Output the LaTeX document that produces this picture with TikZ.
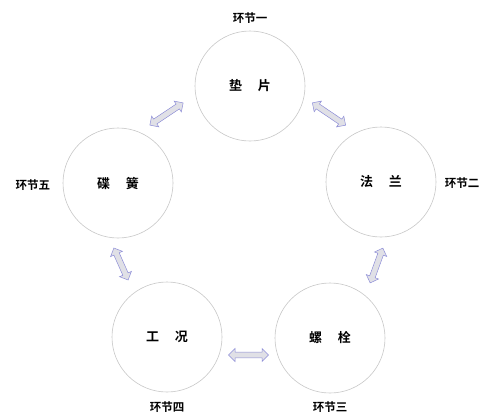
\documentclass[tikz,border=0pt]{standalone}
\usepackage{fontspec}
\newfontfamily\cjk{Noto Sans CJK SC}[BoldFont={Noto Sans CJK SC Bold}]
\usetikzlibrary{shapes.arrows}
\begin{document}
\begin{tikzpicture}[x=1pt,y=-1pt,
  ring/.style={circle,draw=black!22,line width=0.6pt,minimum size=110pt,inner sep=0pt,font=\cjk\bfseries\fontsize{13}{15}\selectfont},
  tag/.style={font=\cjk\bfseries\fontsize{11.5}{13}\selectfont,inner sep=1pt},
  dblarrow/.style={double arrow,draw=black!35!blue!45,fill=blue!18!black!12,line width=0.5pt,
    minimum height=40pt,minimum width=13pt,double arrow head extend=3.5pt,inner sep=2.6pt,
    text width=0pt,text height=0pt,text depth=0pt}]
\useasboundingbox (0,0) rectangle (492,416);
\node[ring] (c1) at (250,86) {垫\hspace{1.2em}片};
\node[ring] (c2) at (381,182) {法\hspace{1.2em}兰};
\node[ring] (c3) at (330,338) {螺\hspace{1.2em}栓};
\node[ring] (c4) at (167,337) {工\hspace{1.2em}况};
\node[ring] (c5) at (118,183) {碟\hspace{1.2em}簧};
\node[tag] (t1) at (250,18) {环节一};
\node[tag] (t2) at (462,183) {环节二};
\node[tag] (t3) at (330,407) {环节三};
\node[tag] (t4) at (167,407) {环节四};
\node[tag] (t5) at (33,185) {环节五};
\node[dblarrow,rotate=33.7] (a15) at (166.5,114) {};
\node[dblarrow,rotate=-34] (a12) at (329,114) {};
\node[dblarrow,rotate=-110,minimum height=37pt] (a23) at (376.5,265.5) {};
\node[dblarrow,rotate=-66,minimum height=35pt] (a54) at (121,264) {};
\node[dblarrow] (a43) at (248.5,355) {};
\end{tikzpicture}
\end{document}
